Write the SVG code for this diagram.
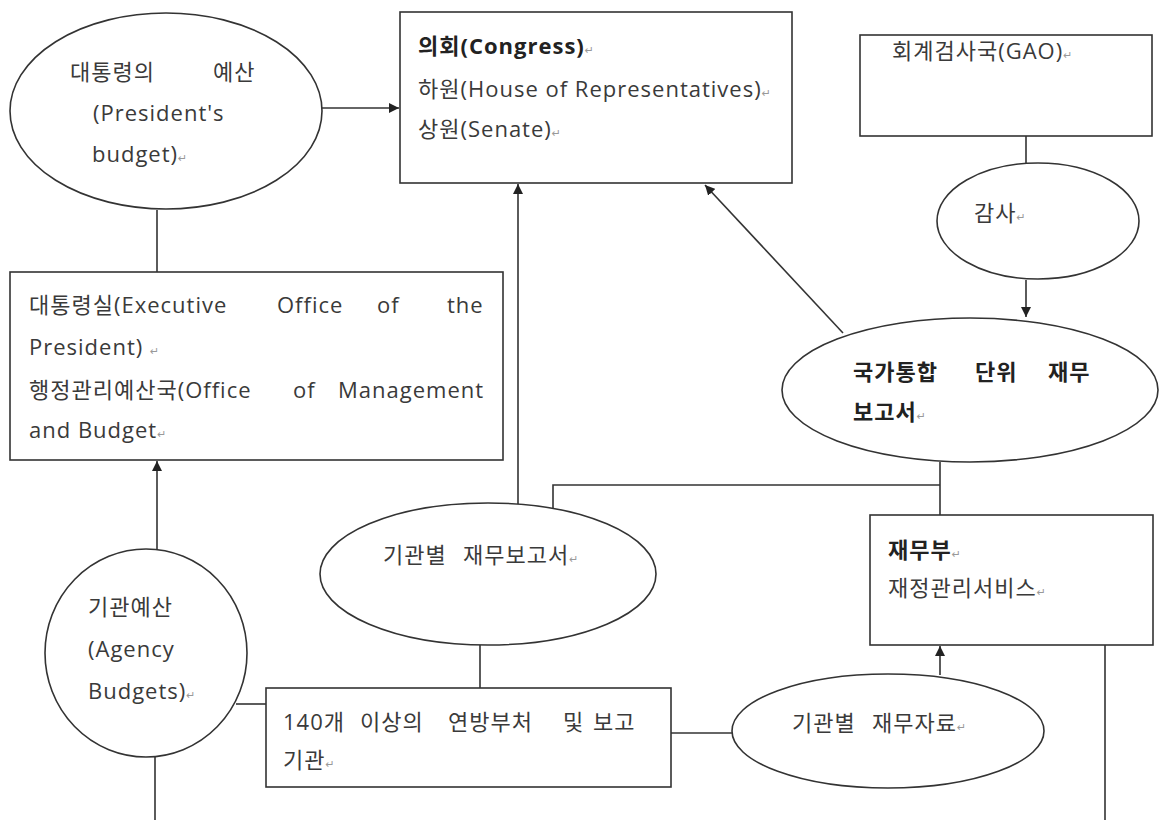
<svg xmlns="http://www.w3.org/2000/svg" width="1160" height="820" viewBox="0 0 1160 820">
<defs>
<marker id="arr" viewBox="0 0 10 10" refX="10" refY="5" markerWidth="10" markerHeight="10" markerUnits="userSpaceOnUse" orient="auto">
<path d="M0,0 L10,5 L0,10 z" fill="#222"/>
</marker>
<style>
.n{fill:#fff;stroke:#333;stroke-width:1.6}
.t{font-family:"Open Sans","Noto Sans CJK KR",sans-serif;font-size:22px;letter-spacing:1px;fill:#3a3a3a}
.b{font-weight:bold;fill:#222}
.pm{font-family:"DejaVu Sans",sans-serif;font-size:11px;fill:#999;font-weight:normal}
.c{fill:none;stroke:#333;stroke-width:1.6}
</style>
</defs>
<rect width="1160" height="820" fill="#fff"/>
<g id="connectors">
<line class="c" x1="322" y1="108" x2="399" y2="108" marker-end="url(#arr)"/>
<line class="c" x1="157" y1="210" x2="157" y2="272"/>
<line class="c" x1="157" y1="549" x2="157" y2="461" marker-end="url(#arr)"/>
<line class="c" x1="236" y1="704" x2="266" y2="704"/>
<line class="c" x1="155" y1="757" x2="155" y2="820"/>
<line class="c" x1="518" y1="504" x2="518" y2="184" marker-end="url(#arr)"/>
<line class="c" x1="843" y1="333" x2="705" y2="185" marker-end="url(#arr)"/>
<line class="c" x1="1026" y1="136" x2="1026" y2="163"/>
<line class="c" x1="1026" y1="280" x2="1026" y2="317" marker-end="url(#arr)"/>
<line class="c" x1="940" y1="462" x2="940" y2="515"/>
<polyline class="c" points="940,485 553,485 553,510"/>
<line class="c" x1="480" y1="645" x2="480" y2="688"/>
<line class="c" x1="671" y1="733" x2="732" y2="733"/>
<line class="c" x1="940" y1="675" x2="940" y2="646" marker-end="url(#arr)"/>
<line class="c" x1="1105" y1="645" x2="1105" y2="820"/>
</g>
<g id="presidents-budget">
<ellipse class="n" cx="166" cy="111" rx="156" ry="98"/>
<text class="t"><tspan x="70" y="80">대통령의</tspan><tspan x="213" y="80">예산</tspan><tspan x="93" y="121">(President's</tspan><tspan x="92" y="162">budget)<tspan class="pm">↵</tspan></tspan></text>
</g>
<g id="congress">
<rect class="n" x="400" y="12" width="392" height="171"/>
<text class="t"><tspan class="b" x="418" y="54">의회(Congress)<tspan class="pm">↵</tspan></tspan><tspan x="418" y="97">하원(House of Representatives)<tspan class="pm">↵</tspan></tspan><tspan x="418" y="137">상원(Senate)<tspan class="pm">↵</tspan></tspan></text>
</g>
<g id="gao">
<rect class="n" x="860" y="35" width="292" height="101"/>
<text class="t" x="892" y="59">회계검사국(GAO)<tspan class="pm">↵</tspan></text>
</g>
<g id="audit">
<ellipse class="n" cx="1038" cy="221" rx="101" ry="58"/>
<text class="t" x="974" y="221">감사<tspan class="pm">↵</tspan></text>
</g>
<g id="national-report">
<ellipse class="n" cx="970" cy="390" rx="188" ry="72"/>
<text class="t b"><tspan x="853" y="380">국가통합</tspan><tspan x="975" y="380">단위</tspan><tspan x="1048" y="380">재무</tspan><tspan x="853" y="420">보고서<tspan class="pm">↵</tspan></tspan></text>
</g>
<g id="executive-office">
<rect class="n" x="10" y="272" width="493" height="188"/>
<text class="t"><tspan x="29" y="313">대통령실(Executive</tspan><tspan x="277" y="313">Office</tspan><tspan x="377" y="313">of</tspan><tspan x="447" y="313">the</tspan><tspan x="29" y="355">President) <tspan class="pm">↵</tspan></tspan><tspan x="29" y="398">행정관리예산국(Office</tspan><tspan x="293" y="398">of</tspan><tspan x="338" y="398">Management</tspan><tspan x="29" y="438">and Budget<tspan class="pm">↵</tspan></tspan></text>
</g>
<g id="treasury">
<rect class="n" x="870" y="515" width="283" height="130"/>
<text class="t"><tspan class="b" x="888" y="558">재무부<tspan class="pm">↵</tspan></tspan><tspan x="888" y="596">재정관리서비스<tspan class="pm">↵</tspan></tspan></text>
</g>
<g id="agency-reports">
<ellipse class="n" cx="488" cy="574" rx="168" ry="71"/>
<text class="t"><tspan x="383" y="563">기관별</tspan><tspan x="463" y="563">재무보고서<tspan class="pm">↵</tspan></tspan></text>
</g>
<g id="agency-budgets">
<ellipse class="n" cx="146" cy="653" rx="101" ry="104"/>
<text class="t"><tspan x="88" y="615">기관예산</tspan><tspan x="88" y="657">(Agency</tspan><tspan x="88" y="699">Budgets)<tspan class="pm">↵</tspan></tspan></text>
</g>
<g id="federal-agencies">
<rect class="n" x="266" y="688" width="405" height="99"/>
<text class="t"><tspan x="283" y="730">140개</tspan><tspan x="360" y="730">이상의</tspan><tspan x="448" y="730">연방부처</tspan><tspan x="563" y="730">및</tspan><tspan x="593" y="730">보고</tspan><tspan x="283" y="768">기관<tspan class="pm">↵</tspan></tspan></text>
</g>
<g id="agency-data">
<ellipse class="n" cx="888" cy="731" rx="156" ry="57"/>
<text class="t"><tspan x="792" y="731">기관별</tspan><tspan x="872" y="731">재무자료<tspan class="pm">↵</tspan></tspan></text>
</g>
</svg>
